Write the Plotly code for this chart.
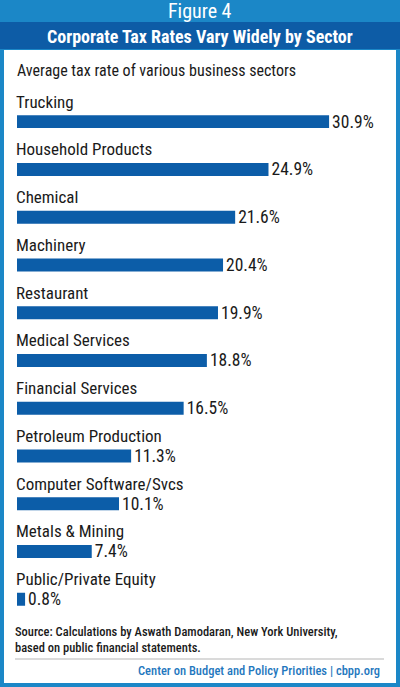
import plotly.graph_objects as go

sectors = [
    "Trucking",
    "Household Products",
    "Chemical",
    "Machinery",
    "Restaurant",
    "Medical Services",
    "Financial Services",
    "Petroleum Production",
    "Computer Software/Svcs",
    "Metals & Mining",
    "Public/Private Equity",
]
tax_rates = [30.9, 24.9, 21.6, 20.4, 19.9, 18.8, 16.5, 11.3, 10.1, 7.4, 0.8]

W, H = 400, 687
light_blue = "#1b87c7"
dark_blue = "#0d5ca6"
bar_blue = "#0c5da8"
font = "Roboto Condensed, Liberation Sans Narrow, sans-serif"


def py(px):
    # pixel (from top) -> paper y
    return 1 - px / H


fig = go.Figure()

fig.add_trace(
    go.Bar(
        x=tax_rates,
        y=sectors,
        orientation="h",
        width=0.27,
        marker=dict(color=bar_blue, line=dict(width=0)),
        text=[f"{v:.1f}%" for v in tax_rates],
        textposition="outside",
        constraintext="none",
        textangle=0,
        textfont=dict(family=font, size=17.5, color="#1a1a1a"),
        cliponaxis=False,
        hoverinfo="skip",
    )
)

# sector names above each bar
for s in sectors:
    fig.add_annotation(
        x=15 / W, xref="paper", xanchor="left",
        y=s, yref="y", yanchor="middle", yshift=20,
        text=s, showarrow=False, borderpad=0,
        font=dict(family=font, size=17, color="#1a1a1a"),
    )

shapes = [
    # frame
    dict(type="rect", xref="paper", yref="paper", x0=0, x1=1, y0=0, y1=1,
         fillcolor=light_blue, line=dict(width=0), layer="below"),
    dict(type="rect", xref="paper", yref="paper", x0=4 / W, x1=396 / W,
         y0=py(683), y1=py(50), fillcolor="white", line=dict(width=0), layer="below"),
    # title band
    dict(type="rect", xref="paper", yref="paper", x0=0, x1=1,
         y0=py(49), y1=py(22), fillcolor=dark_blue, line=dict(width=0), layer="below"),
    # footer rule
    dict(type="line", xref="paper", yref="paper", x0=15 / W, x1=384 / W,
         y0=py(659), y1=py(659), line=dict(color="#b5b5b5", width=1)),
]

texts = [
    dict(x=0.5, y=py(11), xanchor="center", text="Figure 4",
         font=dict(family=font, size=20, color="white")),
    dict(x=0.5, y=py(36), xanchor="center",
         text="<b>Corporate Tax Rates Vary Widely by Sector</b>",
         font=dict(family=font, size=18, color="white")),
    dict(x=15 / W, y=py(71), xanchor="left",
         text="Average tax rate of various business sectors",
         font=dict(family=font, size=16, color="#1a1a1a")),
    dict(x=13 / W, y=py(639), xanchor="left", align="left",
         text="Source: Calculations by Aswath Damodaran, New York University,<br>"
              "based on public financial statements.",
         font=dict(family=font, size=12.5, color="#1a1a1a", weight=500)),
    dict(x=382 / W, y=py(670), xanchor="right",
         text="Center on Budget and Policy Priorities | cbpp.org",
         font=dict(family=font, size=12.5, color="#1f78be", weight=500)),
]
for t in texts:
    fig.add_annotation(xref="paper", yref="paper", yanchor="middle",
                       showarrow=False, **t)

x_max = 36
fig.update_layout(
    width=W,
    height=H,
    margin=dict(l=0, r=0, t=0, b=0),
    paper_bgcolor="white",
    plot_bgcolor="rgba(0,0,0,0)",
    showlegend=False,
    shapes=shapes,
    xaxis=dict(
        range=[0, x_max],
        domain=[17 / W, (17 + x_max * 10.1) / W],
        visible=False,
        fixedrange=True,
    ),
    yaxis=dict(
        categoryorder="array",
        categoryarray=sectors,
        autorange="reversed",
        domain=[py(630.2), py(97.8)],
        visible=False,
        fixedrange=True,
    ),
)

fig.write_html(
    "out.html",
    config=dict(displayModeBar=False),
    post_script="document.body.style.margin='0';",
)
